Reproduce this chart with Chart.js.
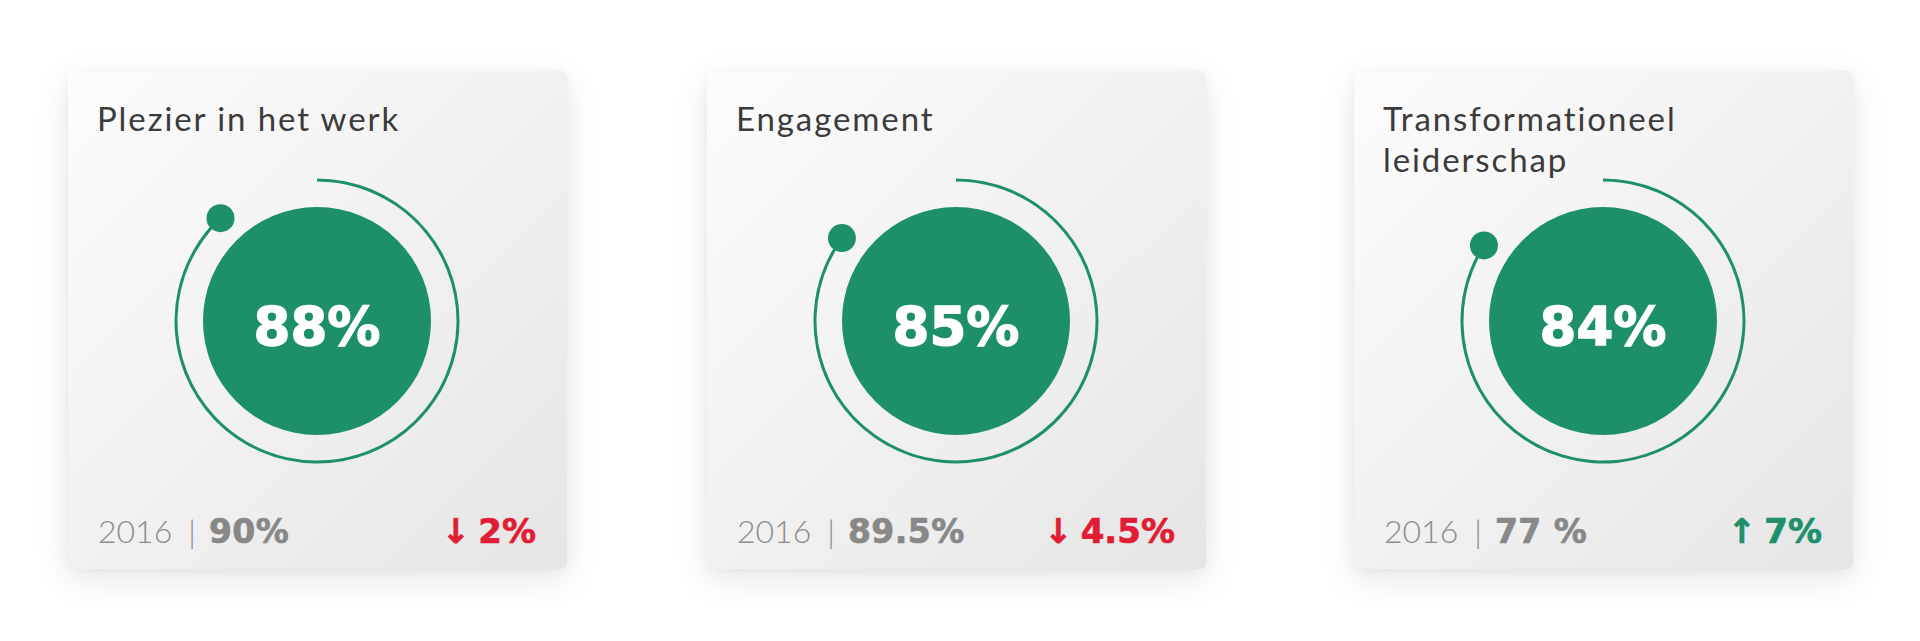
<!DOCTYPE html>
<html>
<head>
<meta charset="utf-8">
<script src="https://cdn.jsdelivr.net/npm/chart.js@4.4.1/dist/chart.umd.min.js"></script>
<style>
  html, body { margin: 0; padding: 0; background: #ffffff; }
  body { width: 1920px; height: 641px; position: relative; overflow: hidden; font-family: Lato, "Open Sans", sans-serif; }
  .card {
    position: absolute; top: 71px; width: 499px; height: 498px;
    border-radius: 6px;
    background: linear-gradient(135deg, #fcfcfc 0%, #f1f1f1 50%, #e5e5e5 100%);
    box-shadow: 0 10px 34px rgba(0,0,0,0.10), 0 2px 8px rgba(0,0,0,0.04);
  }
  .title {
    position: absolute; left: 29px; top: 27px; max-width: 400px;
    font-size: 33px; line-height: 41px; color: #3b3b3b; font-weight: 400;
    letter-spacing: 1.9px;
  }
  .chartbox { position: absolute; left: 89px; top: 90px; width: 320px; height: 320px; }
  .center {
    position: absolute; left: 89px; top: 95px; width: 320px; height: 320px;
    display: flex; align-items: center; justify-content: center;
    color: #ffffff; font-family: "DejaVu Sans", sans-serif; font-weight: 700; font-size: 53px;
    -webkit-text-stroke: 1.4px #ffffff;
  }
  .foot {
    position: absolute; left: 30px; right: 31px; top: 440px; height: 40px;
    display: flex; justify-content: space-between; align-items: baseline;
    font-size: 32px;
  }
  .prev { color: #8c8c8c; font-weight: 300; }
  .prev .pipe { display: inline-block; margin: 0 13px 0 16px; }
  .prev b { font-family: "DejaVu Sans", sans-serif; font-weight: 700; color: #888888; font-size: 33px; letter-spacing: 0.5px; -webkit-text-stroke: 0.7px #888888; }
  .chg { font-family: "DejaVu Sans", sans-serif; font-weight: 700; font-size: 34px; }
  .chg.down { -webkit-text-stroke: 0.7px #e11d35; }
  .chg.up { -webkit-text-stroke: 0.7px #1e8f6b; }
  .chg .arr { font-size: 34px; margin-right: 8px; }
  .down { color: #e11d35; }
  .up { color: #1e8f6b; }
</style>
</head>
<body>
<script>
const titles = ['Plezier in het werk', 'Engagement', 'Transformationeel leiderschap'];
const currentValues = [88, 85, 84];
const previousYear = '2016';
const previousLabels = ['90%', '89.5%', '77 %'];
const changeValues = [-2, -4.5, 7];
const cardLefts = [68, 707, 1354];

const GREEN = '#1e8f6b';

const discPlugin = {
  id: 'discAndDot',
  beforeDatasetsDraw(chart) {
    const arc = chart.getDatasetMeta(0).data[0];
    if (!arc) return;
    const ctx = chart.ctx;
    const p = arc.getProps(['x', 'y', 'outerRadius'], true);
    ctx.save();
    ctx.fillStyle = GREEN;
    ctx.beginPath();
    ctx.arc(p.x, p.y, p.outerRadius * 0.80, 0, Math.PI * 2);
    ctx.fill();
    ctx.restore();
  },
  afterDatasetsDraw(chart) {
    const arc = chart.getDatasetMeta(0).data[0];
    if (!arc) return;
    const ctx = chart.ctx;
    const p = arc.getProps(['x', 'y', 'innerRadius', 'outerRadius', 'endAngle'], true);
    const r = (p.innerRadius + p.outerRadius) / 2;
    const dx = p.x + r * Math.cos(p.endAngle);
    const dy = p.y + r * Math.sin(p.endAngle);
    ctx.save();
    ctx.fillStyle = GREEN;
    ctx.beginPath();
    ctx.arc(dx, dy, 14, 0, Math.PI * 2);
    ctx.fill();
    ctx.restore();
  }
};

titles.forEach((t, i) => {
  const card = document.createElement('div');
  card.className = 'card';
  card.style.left = cardLefts[i] + 'px';

  const title = document.createElement('div');
  title.className = 'title';
  title.textContent = t;
  card.appendChild(title);

  const box = document.createElement('div');
  box.className = 'chartbox';
  const canvas = document.createElement('canvas');
  box.appendChild(canvas);
  card.appendChild(box);

  const center = document.createElement('div');
  center.className = 'center';
  center.textContent = currentValues[i] + '%';
  card.appendChild(center);

  const foot = document.createElement('div');
  foot.className = 'foot';
  const prev = document.createElement('span');
  prev.className = 'prev';
  prev.innerHTML = previousYear + '<span class="pipe">|</span><b>' + previousLabels[i] + '</b>';
  const chg = document.createElement('span');
  const c = changeValues[i];
  chg.className = 'chg ' + (c < 0 ? 'down' : 'up');
  chg.innerHTML = '<span class="arr">' + (c < 0 ? '\u2193' : '\u2191') + '</span>' + Math.abs(c) + '%';
  foot.appendChild(prev);
  foot.appendChild(chg);
  card.appendChild(foot);

  document.body.appendChild(card);

  new Chart(canvas, {
    type: 'doughnut',
    data: {
      labels: ['score', 'rest'],
      datasets: [{
        data: [currentValues[i], 100 - currentValues[i]],
        backgroundColor: [GREEN, 'rgba(0,0,0,0)'],
        borderWidth: 0,
        hoverOffset: 0
      }]
    },
    options: {
      responsive: true,
      maintainAspectRatio: false,
      animation: false,
      cutout: 139.5,
      rotation: 0,
      circumference: 360,
      layout: { padding: 17.5 },
      events: [],
      plugins: { legend: { display: false }, tooltip: { enabled: false } }
    },
    plugins: [discPlugin]
  });
});
</script>
</body>
</html>
